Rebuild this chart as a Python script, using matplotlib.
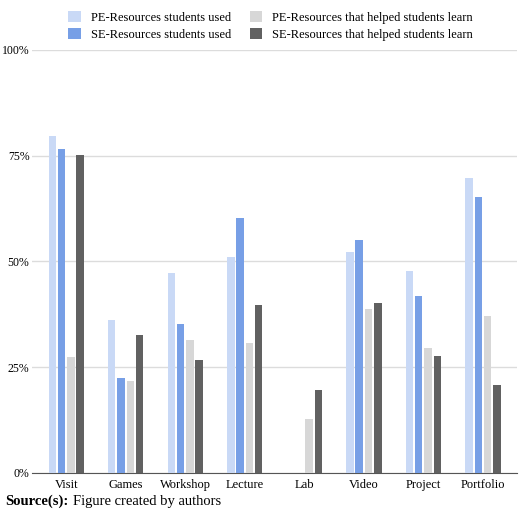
import matplotlib
matplotlib.use("Agg")
import matplotlib.pyplot as plt
import numpy as np

categories = ["Visit", "Games", "Workshop", "Lecture", "Lab", "Video", "Project", "Portfolio"]
pe_used = [79.7, 36.2, 47.3, 51.0, 0, 52.1, 47.8, 69.7]
se_used = [76.6, 22.5, 35.2, 60.2, 0, 55.1, 41.9, 65.1]
pe_helped = [27.3, 21.7, 31.4, 30.6, 12.7, 38.7, 29.5, 37.2]
se_helped = [75.2, 32.5, 26.6, 39.8, 19.5, 40.2, 27.7, 20.8]
series = [("PE-Resources students used", pe_used, "#c9d9f6"),
          ("SE-Resources students used", se_used, "#779fe6"),
          ("PE-Resources that helped students learn", pe_helped, "#d7d7d7"),
          ("SE-Resources that helped students learn", se_helped, "#616161")]

plt.rcParams['font.family'] = ['Liberation Serif']
fig = plt.figure(figsize=(5.2, 5.13), dpi=100)
ax = fig.add_axes([0.062, 0.078, 0.932, 0.825])
x = np.arange(len(categories))
w = 0.125
for i, (lab, vals, col) in enumerate(series):
    ax.bar(x + (i - 1.5) * w * 1.25, vals, w, color=col, label=lab, zorder=3)
ax.set_ylim(0, 100)
ax.set_xlim(-0.57, 7.57)
ax.set_yticks([0, 25, 50, 75, 100])
ax.set_yticklabels(["0%", "25%", "50%", "75%", "100%"], fontsize=8.5)
ax.set_xticks(x)
ax.set_xticklabels(categories, fontsize=9)
ax.grid(axis='y', color='#dcdcdc', lw=1, zorder=0)
for s in ['top', 'right', 'left']:
    ax.spines[s].set_visible(False)
ax.spines['bottom'].set_color('#555555')
ax.tick_params(axis='y', length=0, pad=2)
ax.tick_params(axis='x', length=0, pad=4)
fig.legend(loc='upper center', bbox_to_anchor=(0.52, 1.0), ncol=2, frameon=False,
           fontsize=9, handlelength=1.0, handleheight=1.0, columnspacing=1.5, labelspacing=0.3)
t = fig.text(0.01, 0.015, "Source(s):", fontsize=10.5, fontweight='bold')
fig.canvas.draw()
bb = t.get_window_extent().transformed(fig.transFigure.inverted())
fig.text(bb.x1 + 0.008, 0.015, "Figure created by authors", fontsize=10.5)
fig.savefig("out.png", dpi=100)
